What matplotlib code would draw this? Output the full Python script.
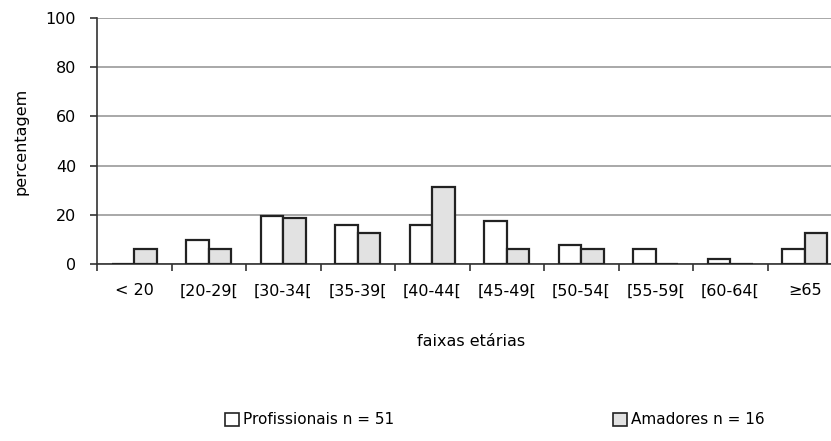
import numpy as np
import matplotlib.pyplot as plt
from matplotlib.patches import Patch

categorias = ['< 20', '[20-29[', '[30-34[', '[35-39[', '[40-44[', '[45-49[',
              '[50-54[', '[55-59[', '[60-64[', '\u226565']
profissionais = [0, 9.8, 19.6, 15.7, 15.7, 17.6, 7.8, 5.9, 2.0, 5.9]
amadores = [6.25, 6.25, 18.75, 12.5, 31.25, 6.25, 6.25, 0, 0, 12.5]

plt.rcParams['font.family'] = ['Liberation Sans Narrow', 'DejaVu Sans']

fig = plt.figure(figsize=(8.31, 4.41), dpi=100)
ax = fig.add_axes([97/831, (441-264)/441, 745/831, 246/441])

x = np.arange(len(categorias))
w = 0.3
ax.bar(x - w/2, profissionais, w, color='white', edgecolor='#222222', linewidth=1.6, zorder=3)
ax.bar(x + w/2, amadores, w, color='#e2e2e2', edgecolor='#222222', linewidth=1.6, zorder=3)

ax.set_xlim(-0.5, len(categorias) - 0.5)
ax.set_ylim(0, 100)
ax.set_yticks([0, 20, 40, 60, 80, 100])
ax.yaxis.grid(True, color='#999999', linewidth=1.2, zorder=0)
ax.set_xticks(x)
ax.set_xticklabels(categorias)
ax.set_xticks(np.arange(len(categorias) + 1) - 0.5, minor=True)
ax.tick_params(axis='x', which='major', length=0, pad=14, labelsize=11.5)
ax.tick_params(axis='x', which='minor', length=5, width=1.2, color='#333333')
ax.tick_params(axis='y', length=5, width=1.2, color='#333333', labelsize=11.5, pad=10)
for s in ['top', 'right']:
    ax.spines[s].set_visible(False)
ax.spines['left'].set_color('#333333')
ax.spines['bottom'].set_color('#333333')
ax.spines['left'].set_linewidth(1.2)
ax.spines['bottom'].set_linewidth(1.2)

ax.set_ylabel('percentagem', fontsize=11.5, labelpad=12)
fig.text(471/831, 1 - 341/441, 'faixas etárias', ha='center', va='center', fontsize=11.5)

handles = [Patch(facecolor='white', edgecolor='#222222', linewidth=1.2),
           Patch(facecolor='#e2e2e2', edgecolor='#222222', linewidth=1.2)]
fig.legend(handles, ['Profissionais n = 51', 'Amadores n = 16'], loc='center',
           bbox_to_anchor=(495/831, 1 - 420/441), ncol=2, frameon=False,
           fontsize=11, handlelength=0.9, handleheight=0.9, handletextpad=0.3,
           columnspacing=14.3)

fig.savefig('out.png', dpi=100)
